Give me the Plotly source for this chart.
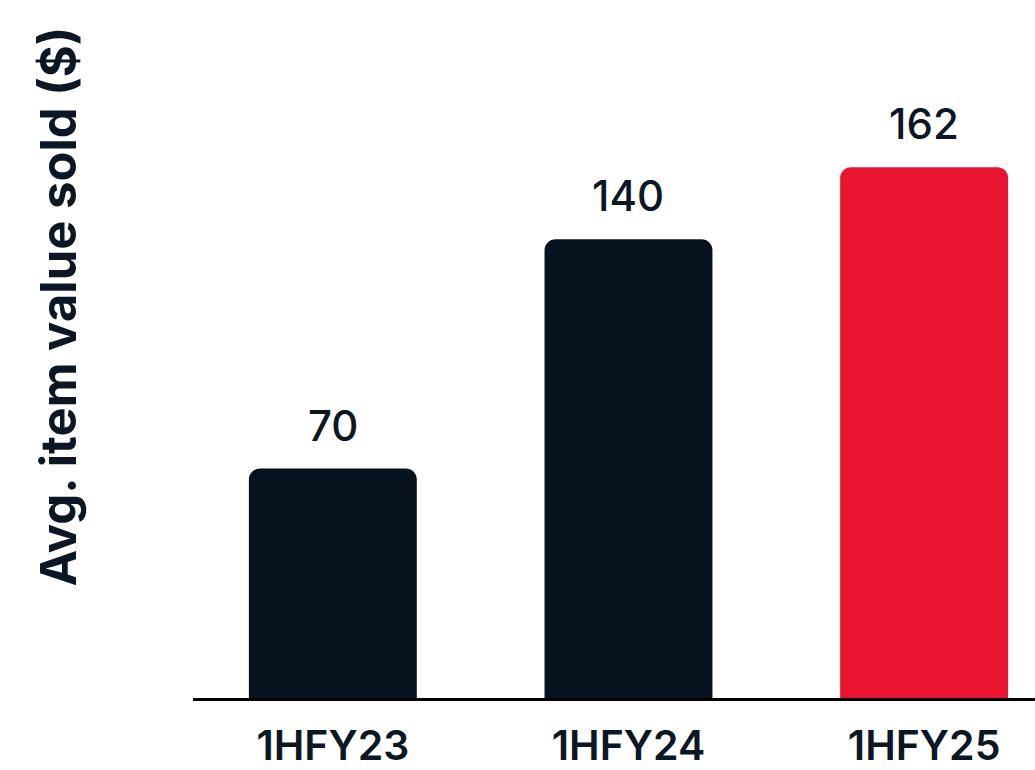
import plotly.graph_objects as go

# Average item value sold per half-year
periods = ["1HFY23", "1HFY24", "1HFY25"]
avg_value = [70, 140, 162]
bar_colors = ["#06131F", "#06131F", "#E81430"]

TEXT = "#0B1724"
FONT = "Inter"

fig = go.Figure(
    go.Bar(
        x=periods,
        y=avg_value,
        marker=dict(color=bar_colors, line=dict(width=0)),
        width=0.568,
        hoverinfo="skip",
    )
)

# value labels above each bar
for p, v in zip(periods, avg_value):
    fig.add_annotation(
        x=p, y=v, text=str(v), showarrow=False,
        yanchor="bottom", yshift=16,
        font=dict(family=FONT, size=42, color=TEXT, weight=500),
    )

# vertical axis title
fig.add_annotation(
    xref="paper", yref="paper", x=(58 - 193) / 842, y=0.561,
    text="<b>Avg. item value sold ($)</b>", textangle=-90, showarrow=False,
    xanchor="center", yanchor="middle",
    font=dict(family=FONT, size=49, color=TEXT),
)

fig.update_layout(
    width=1035, height=770,
    margin=dict(l=193, r=0, t=0, b=70),
    paper_bgcolor="white", plot_bgcolor="white",
    barcornerradius=11,
    showlegend=False,
    xaxis=dict(
        range=[-0.473, 2.375], showline=True, linecolor="black", linewidth=3,
        showgrid=False, zeroline=False, ticks="",
        tickfont=dict(family=FONT, size=41, color=TEXT, weight=600),
        ticklabelstandoff=10,
    ),
    yaxis=dict(
        range=[0, 213], showgrid=False, zeroline=False, showline=False,
        showticklabels=False, ticks="",
    ),
)

fig.write_html("out.html")
